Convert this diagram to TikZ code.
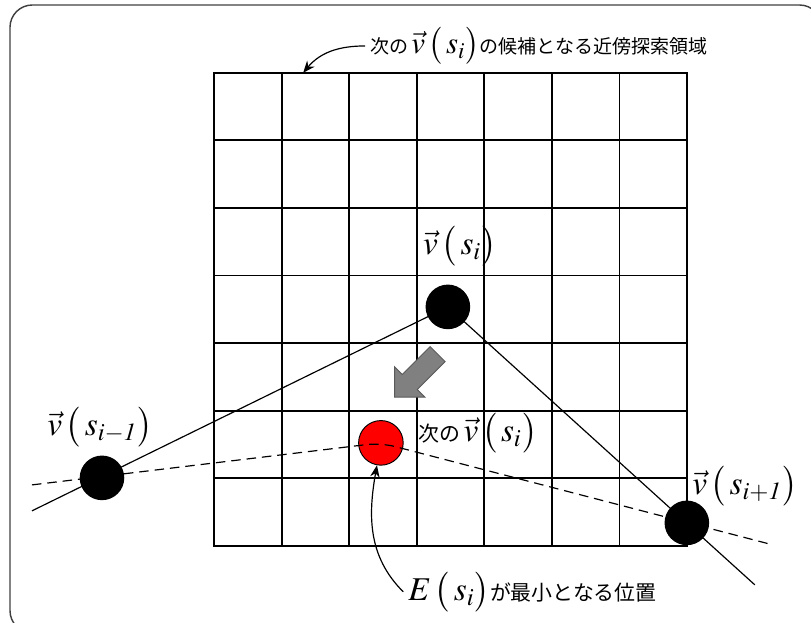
\documentclass[tikz,border=0pt]{standalone}
\usepackage{amsmath}
\usepackage{mathptmx}
\usepackage[no-math]{fontspec}
\setmainfont{Noto Sans CJK JP}
\usetikzlibrary{arrows.meta,shapes.arrows}

\newcommand{\vsym}[2][14]{{\fontsize{#1}{15}\selectfont$\vec{v}\,\big(\,s_{#2}\big)$}}

\begin{document}
\begin{tikzpicture}[>={Stealth[length=5pt,width=4pt]},
    dot/.style={circle, fill=black, minimum size=0.66cm, inner sep=0pt},
    reddot/.style={circle, draw=black, fill=red, minimum size=0.66cm, inner sep=0pt, line width=0.4pt},
    jp/.style={font=\fontsize{8.8}{10}\selectfont, inner sep=2pt},
    ]
    \useasboundingbox (0,0) rectangle (12,9.216);

    % 外枠
    \draw[black!75, line width=0.6pt, rounded corners=0.33cm] (0.148,-0.15) rectangle (12.16,9.142);

    % 近傍探索領域 (7x7)
    \begin{scope}[shift={(3.166,1.139)}]
        \draw[line width=0.8pt] (0,0) grid (7,7);
        \draw[line width=1pt] (0,0) rectangle (7,7);
        \coordinate (areapt) at (1.32,7);
    \end{scope}

    % 点
    \node[reddot] (red) at (5.636,2.663) {};
    \node[dot] (vi) at (6.627,4.675) {};
    \node[dot] (vim) at (1.509,2.145) {};
    \node[dot] (vip) at (10.163,1.479) {};

    % 直線と破線
    \coordinate (a1) at (0.473,1.657);
    \coordinate (a2) at (11.169,0.562);
    \coordinate (b1) at (0.473,2.041);
    \coordinate (b2) at (11.435,1.154);
    \draw[line width=0.5pt] (a1) -- (vi.center) -- (a2);
    \draw[line width=0.5pt, dash pattern=on 4pt off 2.5pt] (b1) [rounded corners=6pt] -- (red.center) -- (b2);

    % 移動方向
    \node[single arrow, draw=black!65, fill=black!50, minimum height=0.9cm, inner sep=0.15cm,
          single arrow head extend=0.16cm, rotate=225] (move) at (6.213,3.713) {};

    % ラベル
    \node[jp] (lvi) at (6.805,5.577) {\vsym{i}};
    \node[jp] (lvim) at (1.479,2.899) {\vsym{i-\mathit{1}}};
    \node[jp] (lvip) at (11.021,2.027) {\vsym{i+\mathit{1}}};
    \node[jp] (lnext) at (7.07,2.811) {次の\,\vsym{i}};
    \node[jp] (lmin) at (7.88,0.459) {{\fontsize{14}{15}\selectfont$E\,\big(\,s_i\big)$}が最小となる位置};
    \node[jp, font=\fontsize{8}{10}\selectfont] (larea) at (7.973,8.536) {次の\,\vsym[13]{i}の候補となる近傍探索領域};

    % 矢印
    \draw[->, line width=0.5pt] (larea.west) to[out=180, in=50] (areapt);
    \draw[->, line width=0.5pt] (lmin.west) to[out=135, in=-100] (red);
\end{tikzpicture}
\end{document}
